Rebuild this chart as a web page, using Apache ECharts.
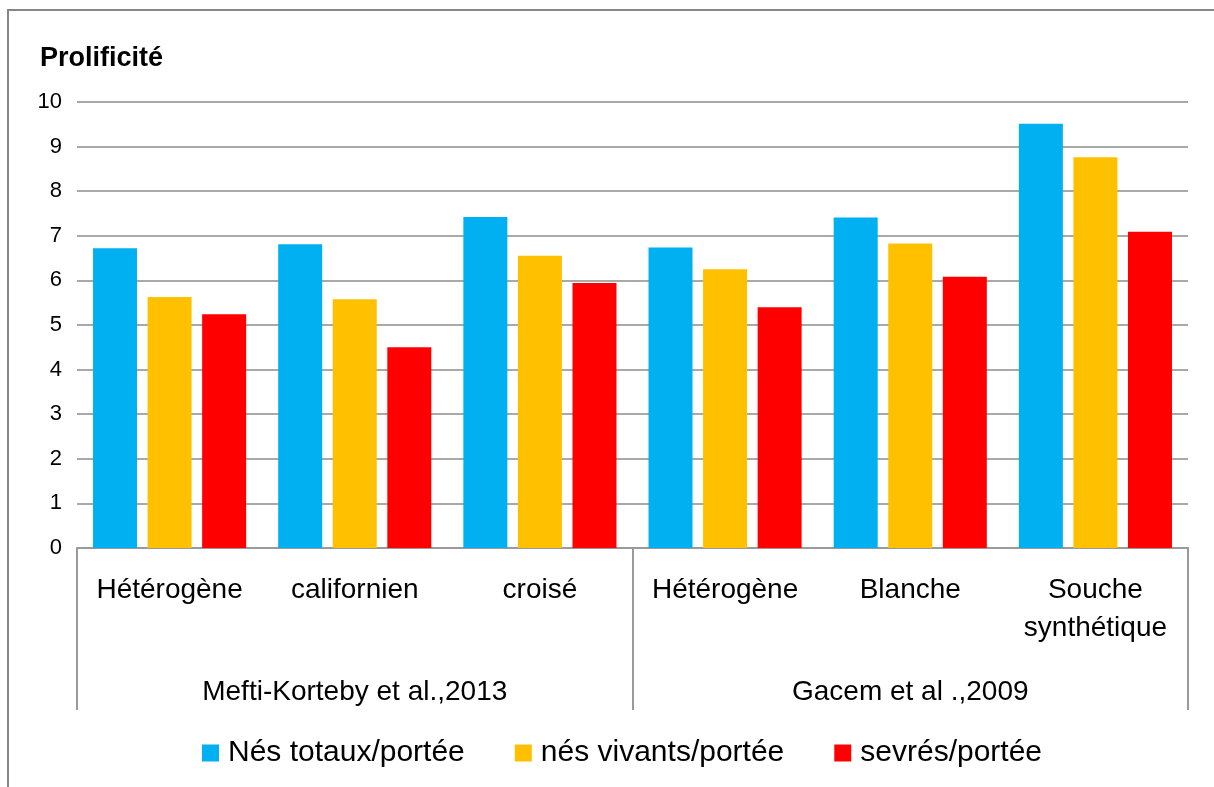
<!DOCTYPE html>
<html>
<head>
<meta charset="utf-8">
<script src="https://cdn.jsdelivr.net/npm/echarts@6/dist/echarts.min.js"></script>
<style>
html,body{margin:0;padding:0;background:#fff;}
#chart{width:1214px;height:787px;}
</style>
</head>
<body>
<div id="chart"></div>
<script>
const categories = ['Hétérogène', 'californien', 'croisé', 'Hétérogène', 'Blanche', 'Souche\nsynthétique'];
const groups = ['Mefti-Korteby et al.,2013', 'Gacem et al .,2009'];
const seriesNames = ['Nés totaux/portée', 'nés vivants/portée', 'sevrés/portée'];
const nesTotaux = [6.72, 6.81, 7.42, 6.74, 7.41, 9.51];
const nesVivants = [5.63, 5.58, 6.55, 6.25, 6.83, 8.76];
const sevres = [5.24, 4.50, 5.94, 5.40, 6.08, 7.09];
const yTicks = {min: 0, max: 10, interval: 1};
const colors = ['#00B0F0', '#FFC000', '#FF0000'];

const FONT = 'Liberation Sans';
const chart = echarts.init(document.getElementById('chart'), null, {renderer: 'canvas'});

const mkSeries = (name, data, color) => ({
  name, type: 'bar', data, barWidth: 44, barGap: '24%',
  itemStyle: {color}
});

chart.setOption({
  animation: false,
  textStyle: {fontFamily: FONT},
  title: {
    text: 'Prolificité', left: 35, top: 40,
    textStyle: {fontFamily: FONT, fontSize: 27, fontWeight: 'bold', color: '#000'}
  },
  legend: {
    left: 197, top: 732, icon: 'rect', itemWidth: 17, itemHeight: 17, itemGap: 50,
    data: seriesNames,
    textStyle: {fontFamily: FONT, fontSize: 30, color: '#000', lineHeight: 32, padding: [0, 0, 0, 4]}
  },
  grid: {left: 77, right: 26, top: 102, bottom: 239, containLabel: false},
  xAxis: [{
    type: 'category', data: categories, position: 'bottom',
    axisLine: {show: true, lineStyle: {color: '#9a9a9a', width: 2}},
    axisTick: {show: false},
    axisLabel: {interval: 0, fontFamily: FONT, fontSize: 28, color: '#000', margin: 23, lineHeight: 38}
  }, {
    type: 'category', data: groups, position: 'bottom', offset: 0,
    axisLine: {show: false},
    axisTick: {show: true, length: 162, lineStyle: {color: '#9a9a9a', width: 2}},
    axisLabel: {interval: 0, fontFamily: FONT, fontSize: 28, color: '#000', margin: 128, lineHeight: 32}
  }],
  yAxis: {
    type: 'value', min: yTicks.min, max: yTicks.max, interval: yTicks.interval,
    axisLine: {show: false}, axisTick: {show: false},
    axisLabel: {fontFamily: FONT, fontSize: 22, color: '#000', margin: 15},
    splitLine: {lineStyle: {color: '#8c8c8c', width: 1.5}}
  },
  series: [
    mkSeries(seriesNames[0], nesTotaux, colors[0]),
    mkSeries(seriesNames[1], nesVivants, colors[1]),
    mkSeries(seriesNames[2], sevres, colors[2])
  ],
  graphic: [{
    type: 'polyline', silent: true,
    shape: {points: [[8, 787], [8, 10], [1214, 10]]},
    style: {stroke: '#868686', lineWidth: 2, fill: null}
  }]
});
</script>
</body>
</html>
